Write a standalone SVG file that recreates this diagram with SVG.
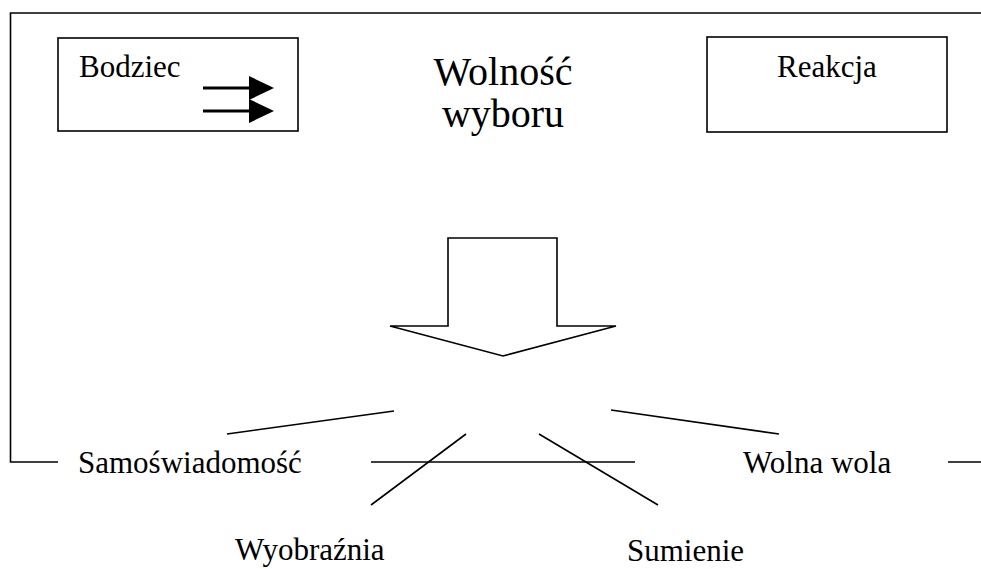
<svg xmlns="http://www.w3.org/2000/svg" width="981" height="569" viewBox="0 0 981 569">
<style>
text{font-family:'Liberation Serif','Times New Roman','DejaVu Serif',serif;font-size:31px;fill:#000}
.big{font-size:40px}
.ln{stroke:#000;stroke-width:1.6;fill:none}
.box{stroke:#000;stroke-width:1.6;fill:#fff}
</style>
<defs>
<marker id="ah" markerWidth="25" markerHeight="24" refX="0" refY="12" orient="auto" markerUnits="userSpaceOnUse">
<path d="M0,0 L25,12 L0,24 Z" fill="#000"/>
</marker>
</defs>
<rect width="981" height="569" fill="#fff"/>
<g id="frame">
<path class="ln" d="M981,13 H10.5 V462 H58" stroke-width="2"/>
<path class="ln" d="M948,462 H981" stroke-width="2"/>
</g>
<g id="bodziec">
<rect class="box" x="58" y="38" width="240" height="93"/>
<text x="79" y="77">Bodziec</text>
<line x1="203" y1="88" x2="249" y2="88" stroke="#000" stroke-width="3" marker-end="url(#ah)"/>
<line x1="203" y1="111" x2="249" y2="111" stroke="#000" stroke-width="3" marker-end="url(#ah)"/>
</g>
<g id="wolnosc">
<text class="big" x="503" y="85" text-anchor="middle">Wolność</text>
<text class="big" x="503" y="127" text-anchor="middle">wyboru</text>
</g>
<g id="reakcja">
<rect class="box" x="707" y="37" width="240" height="95"/>
<text x="777" y="77">Reakcja</text>
</g>
<g id="blockarrow">
<path class="box" d="M448,238 H557 V326 H616 L503,356 L390,326 H448 Z"/>
</g>
<g id="samoswiadomosc"><text x="78" y="473">Samoświadomość</text></g>
<g id="wolnawola"><text x="743" y="473">Wolna wola</text></g>
<g id="wyobraznia"><text x="235" y="560">Wyobraźnia</text></g>
<g id="sumienie"><text x="627" y="561">Sumienie</text></g>
<g id="connectors">
<line class="ln" x1="227" y1="434" x2="394" y2="411"/>
<line class="ln" x1="371" y1="505" x2="466" y2="434"/>
<line class="ln" x1="539" y1="434" x2="658" y2="505"/>
<line class="ln" x1="611" y1="410" x2="779" y2="434"/>
<line class="ln" x1="371" y1="462" x2="635" y2="462"/>
</g>
</svg>
